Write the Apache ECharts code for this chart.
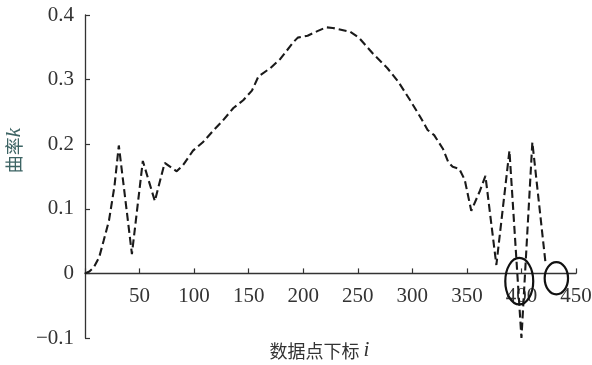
<!DOCTYPE html>
<html>
<head>
<meta charset="utf-8">
<script src="https://cdn.jsdelivr.net/npm/echarts@6/dist/echarts.min.js"></script>
<style>
  html, body { margin: 0; padding: 0; background: #fff; }
  #chart { width: 592px; height: 365px; }
</style>
</head>
<body>
<div id="chart"></div>
<script>
// Curvature k along the data point index i
const pointIndex = [0, 4, 8, 13, 17, 22, 27, 31, 43, 53, 64, 73, 84, 90, 99, 108, 117, 126, 136, 145,
  153, 159, 170, 179, 191, 195, 204, 213, 221, 227, 243, 251, 264, 277, 287, 298, 307, 314, 320, 328,
  333, 337, 343, 348, 354, 362, 367, 377, 389, 400, 410, 422];
const curvature = [0, 0.003, 0.009, 0.025, 0.05, 0.082, 0.135, 0.198, 0.03, 0.174, 0.112, 0.171, 0.158, 0.168, 0.19, 0.203, 0.22, 0.236, 0.256, 0.268,
  0.283, 0.305, 0.318, 0.332, 0.358, 0.365, 0.368, 0.375, 0.381, 0.38, 0.374, 0.365, 0.34, 0.318, 0.297, 0.268, 0.243, 0.222, 0.214, 0.193,
  0.172, 0.165, 0.162, 0.145, 0.097, 0.128, 0.151, 0.013, 0.19, -0.1, 0.203, 0.017];

// Highlighted regions: [centre i, centre k, half-width in i, half-height in k]
const markedRegions = [
  [398, -0.012, 12.8, 0.036],
  [432, -0.0075, 10.7, 0.025]
];

const xTicks = { min: 0, max: 450, step: 50 };
const yTicks = { min: -0.1, max: 0.4, step: 0.1 };

const serif = '"Liberation Serif", "Times New Roman", serif';
const cjk = '"Noto Sans CJK SC", sans-serif';

const chart = echarts.init(document.getElementById('chart'), null, { renderer: 'canvas' });

const gridBox = { left: 85, right: 16, top: 15, bottom: 27 };

chart.setOption({
  animation: false,
  grid: Object.assign({ containLabel: false, outerBoundsMode: 'none' }, gridBox),
  xAxis: {
    type: 'value',
    min: xTicks.min, max: xTicks.max, interval: xTicks.step,
    name: '数据点下标 {i|i}',
    nameLocation: 'middle',
    nameGap: 67,
    nameTextStyle: {
      fontFamily: cjk, fontSize: 18, color: '#333',
      padding: [0, 22, 0, 0],
      rich: { i: { fontFamily: serif, fontStyle: 'italic', fontSize: 21, color: '#333' } }
    },
    axisLine: { onZero: false, lineStyle: { color: '#333', width: 1.3 } },
    axisTick: { inside: true, length: 5, lineStyle: { color: '#333', width: 1.2 } },
    axisLabel: {
      margin: 13, fontFamily: serif, fontSize: 21, color: '#333',
      formatter: v => (v === 0 ? '' : String(v))
    },
    splitLine: { show: false }
  },
  yAxis: {
    type: 'value',
    min: yTicks.min, max: yTicks.max, interval: yTicks.step,
    name: '曲率{k|k}',
    nameLocation: 'middle',
    nameGap: 55,
    nameRotate: 90,
    nameTextStyle: {
      fontFamily: cjk, fontSize: 18, color: '#3d6464',
      padding: [0, 0, 0, 52],
      rich: { k: { fontFamily: serif, fontStyle: 'italic', fontSize: 21, color: '#3d6464' } }
    },
    axisLine: { show: true, lineStyle: { color: '#333', width: 1.3 } },
    axisTick: { show: true, inside: true, length: 5, lineStyle: { color: '#333', width: 1.2 } },
    axisLabel: {
      margin: 11, fontFamily: serif, fontSize: 21, color: '#333',
      formatter: v => {
        const r = Math.round(v * 10) / 10;
        if (r === 0) return '0';
        return r < 0 ? '\u2212' + Math.abs(r).toFixed(1) : r.toFixed(1);
      }
    },
    splitLine: { show: false }
  },
  series: [
    {
      type: 'line',
      data: pointIndex.map((x, n) => [x, curvature[n]]),
      showSymbol: false,
      smooth: false,
      lineStyle: { color: '#1a1a1a', width: 2.1, type: [8, 4] },
      z: 2
    },
    {
      type: 'custom',
      data: markedRegions,
      renderItem: (params, api) => {
        const c = api.coord([api.value(0), api.value(1)]);
        const s = api.size([api.value(2), api.value(3)]);
        return {
          type: 'ellipse',
          shape: { cx: c[0], cy: c[1], rx: s[0], ry: s[1] },
          style: { fill: 'none', stroke: '#111', lineWidth: 2.2 }
        };
      },
      z: 3
    }
  ]
});

// Lift the whole x axis (line, ticks, labels, name) up to the k = 0 level
const zeroY = chart.convertToPixel({ yAxisIndex: 0 }, 0);
const bottomY = chart.getHeight() - gridBox.bottom;
chart.setOption({ xAxis: { offset: zeroY - bottomY } });
</script>
</body>
</html>
